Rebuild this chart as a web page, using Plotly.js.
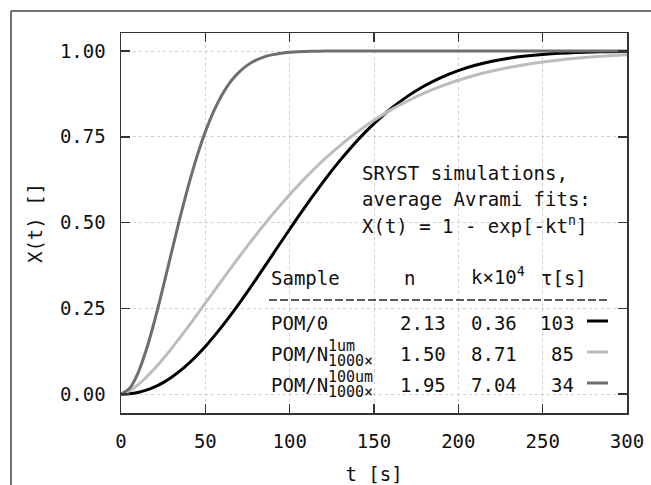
<!DOCTYPE html>
<html>
<head>
<meta charset="utf-8">
<script src="https://cdn.plot.ly/plotly-3.0.1.min.js"></script>
<style>html,body{margin:0;padding:0;background:#fff;}#chart{width:651px;height:485px;}</style>
</head>
<body>
<div id="chart"></div>
<script>
// ---- data ----
const time = [0,5,10,15,20,25,30,35,40,45,50,55,60,65,70,75,80,85,90,95,100,105,110,115,120,125,130,135,140,145,150,
              160,170,180,190,200,210,220,230,240,250,260,270,280,290,300];
const xPOM0 = [0,0.0011,0.0048,0.0115,0.0210,0.0336,0.0492,0.0676,0.0888,0.1127,0.1390,0.1675,0.1980,0.2303,0.2640,0.2988,0.3345,0.3709,0.4075,0.4442,0.4806,0.5166,0.5518,0.5861,0.6194,0.6514,0.6820,0.7110,0.7385,0.7644,0.7885,
               0.8318,0.8685,0.8989,0.9235,0.9431,0.9585,0.9702,0.9790,0.9854,0.9901,0.9934,0.9956,0.9972,0.9982,0.9989];
const xN1um = [0,0.0097,0.0272,0.0493,0.0749,0.1032,0.1334,0.1650,0.1977,0.2312,0.2651,0.2990,0.3329,0.3665,0.3996,0.4320,0.4638,0.4947,0.5246,0.5536,0.5815,0.6083,0.6339,0.6584,0.6818,0.7040,0.7250,0.7449,0.7637,0.7815,0.7981,
               0.8284,0.8549,0.8780,0.8978,0.9149,0.9294,0.9417,0.9521,0.9608,0.9680,0.9740,0.9790,0.9831,0.9864,0.9892];
const xN100um = [0,0.0161,0.0608,0.1292,0.2153,0.3125,0.4140,0.5141,0.6081,0.6923,0.7648,0.8250,0.8732,0.9106,0.9386,0.9589,0.9732,0.9830,0.9895,0.9937,0.9963,0.9979,0.9988,0.9993,0.9997,0.9998,0.9999,1.0,1.0,1.0,1.0,
                 1.0,1.0,1.0,1.0,1.0,1.0,1.0,1.0,1.0,1.0,1.0,1.0,1.0,1.0,1.0];
const xTicks = [0,50,100,150,200,250,300];
const yTicks = [0,0.25,0.5,0.75,1.0];
const yTickText = ['0.00','0.25','0.50','0.75','1.00'];
const sampleMain = ['POM/0','POM/N','POM/N'];
const sampleSup = ['','1um','100um'];
const sampleSub = ['','1000×','1000×'];
const nVals = ['2.13','1.50','1.95'];
const kVals = ['0.36','8.71','7.04'];
const tauVals = ['103','85','34'];
const titleLines = ['SRYST simulations,','average Avrami fits:','X(t) = 1 - exp[-kt<sup>n</sup>]'];

// ---- styling / layout ----
const colors = ['#000000','#bdbdbd','#6e6e6e'];
const FONT = 'DejaVu Sans Mono, monospace';
const W = 651, H = 485, L = 121, R = 627, T = 33, B = 413;
const px = x => (x - L) / (R - L);
const py = y => (B - y) / (B - T);

const series = [xPOM0, xN1um, xN100um];
const traces = series.map((s, i) => ({
  x: time, y: s, type: 'scatter', mode: 'lines',
  line: {color: colors[i], width: 3, shape: 'spline', smoothing: 0.6},
  showlegend: false, hoverinfo: 'skip'
}));

const ann = [];
const txt = (text, x, y, xanchor, size) => ann.push({
  text: text, xref: 'paper', yref: 'paper', x: px(x), y: py(y),
  xanchor: xanchor || 'left', yanchor: 'middle', showarrow: false,
  font: {family: FONT, size: size || 19, color: '#111'}
});
const titleY = [173, 199, 225];
titleLines.forEach((t, i) => txt(t, 360, titleY[i]));
txt('Sample', 269, 278);
txt('n', 402, 278);
txt('k×10<sup>4</sup>', 469, 276);
txt('τ[s]', 539, 278);
const rowY = [321, 352, 383];
for (let i = 0; i < 3; i++) {
  txt(sampleMain[i], 269, rowY[i] + 2);
  if (sampleSup[i]) {
    txt(sampleSup[i], 326, rowY[i] - 6, 'left', 15);
    txt(sampleSub[i], 326, rowY[i] + 9, 'left', 15);
  }
  txt(nVals[i], 398, rowY[i] + 2);
  txt(kVals[i], 469, rowY[i] + 2);
  txt(tauVals[i], 576, rowY[i] + 2, 'right');
}

const shapes = [
  // opaque key boxes hiding gridlines
  {type: 'rect', xref: 'paper', yref: 'paper', x0: px(350), x1: px(626), y0: py(266), y1: py(152),
   fillcolor: '#ffffff', line: {width: 0}, layer: 'between'},
  {type: 'rect', xref: 'paper', yref: 'paper', x0: px(266), x1: px(626), y0: py(412), y1: py(262),
   fillcolor: '#ffffff', line: {width: 0}, layer: 'between'},
  // dashed separator
  {type: 'line', xref: 'paper', yref: 'paper', x0: px(269), x1: px(607), y0: py(300), y1: py(300),
   line: {color: '#222', width: 1.5, dash: '8px,3px'}},
  // outer border
  {type: 'line', xref: 'paper', yref: 'paper', x0: px(11), x1: px(11), y0: py(11), y1: py(490),
   line: {color: '#444', width: 1.5}},
  {type: 'line', xref: 'paper', yref: 'paper', x0: px(11), x1: px(660), y0: py(11), y1: py(11),
   line: {color: '#444', width: 1.5}}
];
rowY.forEach((y, i) => shapes.push({type: 'line', xref: 'paper', yref: 'paper',
  x0: px(587), x1: px(608), y0: py(y), y1: py(y), line: {color: colors[i], width: 3}}));

const axisCommon = {
  showline: true, linecolor: '#333', linewidth: 1.5, mirror: 'ticks',
  ticks: 'inside', ticklen: 9, tickwidth: 1.5, tickcolor: '#333',
  showgrid: true, gridcolor: '#c4c4c4', griddash: 'dot', gridwidth: 0.8,
  zeroline: false, tickfont: {family: FONT, size: 19, color: '#111'}
};

const layout = {
  width: W, height: H,
  margin: {l: L, r: W - R, t: T, b: H - B},
  paper_bgcolor: '#fff', plot_bgcolor: '#fff',
  xaxis: Object.assign({}, axisCommon, {
    range: [0, 300], tickvals: xTicks, ticklabelstandoff: 11,
    title: {text: 't [s]', font: {family: FONT, size: 19, color: '#111'}, standoff: 22}
  }),
  yaxis: Object.assign({}, axisCommon, {
    range: [-0.055, 1.0525], tickvals: yTicks, ticktext: yTickText, ticklabelstandoff: 10,
    title: {text: 'X(t) []', font: {family: FONT, size: 19, color: '#111'}, standoff: 12}
  }),
  annotations: ann, shapes: shapes, showlegend: false
};

Plotly.newPlot('chart', traces, layout, {displayModeBar: false, staticPlot: true});
</script>
</body>
</html>
